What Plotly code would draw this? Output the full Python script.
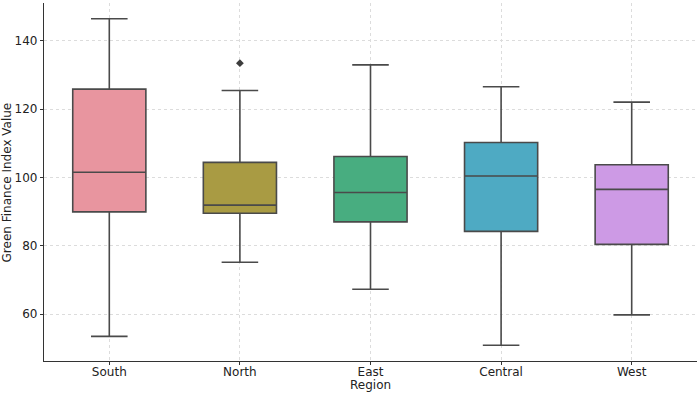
import plotly.graph_objects as go

regions = ["South", "North", "East", "Central", "West"]
q1 = [89.9, 89.5, 87.0, 84.2, 80.4]
median = [101.5, 91.9, 95.6, 100.4, 96.5]
q3 = [125.8, 104.4, 106.1, 110.2, 103.7]
lower = [53.5, 75.2, 67.3, 50.9, 59.8]
upper = [146.4, 125.4, 132.9, 126.5, 122.0]
outlier_region = ["North"]
outlier_value = [133.4]
colors = ["#e8959f", "#a99b43", "#48ad80", "#4eaac3", "#cd9ae5"]

fig = go.Figure()
for i, r in enumerate(regions):
    fig.add_trace(go.Box(
        x=[r], q1=[q1[i]], median=[median[i]], q3=[q3[i]],
        lowerfence=[lower[i]], upperfence=[upper[i]],
        fillcolor=colors[i], line=dict(color="#4a4a4a", width=1.6),
        whiskerwidth=0.5, boxpoints=False, showlegend=False,
        hoverinfo="y",
    ))

fig.add_trace(go.Scatter(
    x=outlier_region, y=outlier_value, mode="markers",
    marker=dict(symbol="diamond", size=6, color="#3d3d3d"),
    showlegend=False,
))

fig.update_layout(
    width=699, height=394,
    margin=dict(l=44, r=2, t=3, b=33, autoexpand=False),
    paper_bgcolor="white", plot_bgcolor="white",
    boxmode="overlay", boxgap=0.2,
    font=dict(family="DejaVu Sans", size=12, color="#222"),
    annotations=[
        dict(text="Region", xref="paper", yref="paper", x=0.5, y=-0.067,
             xanchor="center", yanchor="middle", showarrow=False,
             font=dict(size=12, color="#222")),
        dict(text="Green Finance Index Value", xref="paper", yref="paper",
             x=-0.056, y=0.5, xanchor="center", yanchor="middle",
             textangle=-90, showarrow=False, font=dict(size=12, color="#222")),
    ],
)
fig.update_xaxes(
    categoryorder="array", categoryarray=regions,
    range=[-0.5, 4.5], automargin=False,
    showgrid=True, gridcolor="#dcdcdc", griddash="dot", gridwidth=1,
    showline=True, linecolor="#333", linewidth=1.2,
    ticks="outside", ticklen=3, tickcolor="#333",
    ticklabelstandoff=-4,
    zeroline=False,
)
fig.update_yaxes(
    range=[46.3, 151], automargin=False,
    tickvals=[60, 80, 100, 120, 140],
    showgrid=True, gridcolor="#dcdcdc", griddash="dot", gridwidth=1,
    showline=True, linecolor="#333", linewidth=1.2,
    ticks="outside", ticklen=3, tickcolor="#333",
    zeroline=False,
)

fig.write_html("out.html", config={"displayModeBar": False},
               post_script="document.body.style.margin='0px';")
